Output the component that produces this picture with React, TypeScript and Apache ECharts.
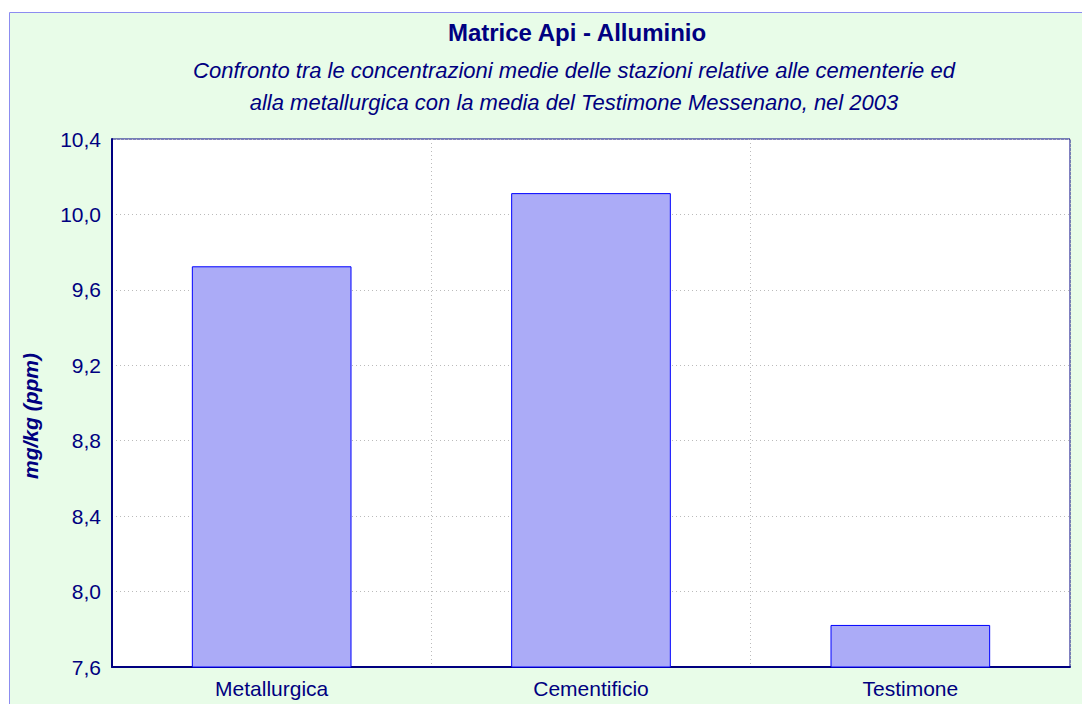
import React, { useEffect, useRef } from "react";
import * as echarts from "echarts";

const categories = ["Metallurgica", "Cementificio", "Testimone"];
const values = [9.725, 10.113, 7.823];
const yTicks = { min: 7.6, max: 10.4, interval: 0.4 };
const yAxisName = "mg/kg (ppm)";

const NAVY = "#000080";
const FONT = "'Liberation Sans', Arial, sans-serif";

export default function App() {
  const ref = useRef<HTMLDivElement>(null);
  useEffect(() => {
    if (!ref.current) return;
    const chart = echarts.init(ref.current, undefined, { renderer: "svg" });
    chart.setOption({
      animation: false,
      backgroundColor: "#ffffff",
      graphic: [
        {
          type: "rect",
          z: -10,
          silent: true,
          shape: { x: 9.5, y: 12.5, width: 1100, height: 720 },
          style: { fill: "#E8FCE8", stroke: "#8C8CF0", lineWidth: 1 },
        },
        {
          type: "text",
          x: 30,
          y: 416,
          rotation: Math.PI / 2,
          style: {
            text: yAxisName,
            fill: NAVY,
            font: "italic bold 21px 'Liberation Sans', Arial, sans-serif",
            align: "center",
            verticalAlign: "middle",
          },
        },
      ],
      title: [
        {
          text: "Matrice Api - Alluminio",
          left: 572,
          top: 15,
          textAlign: "center",
          textStyle: { color: NAVY, fontSize: 24, fontWeight: "bold", fontFamily: FONT },
        },
        {
          text: "Confronto tra le concentrazioni medie delle stazioni relative alle cementerie ed\nalla metallurgica con la media del Testimone Messenano, nel 2003",
          left: 569,
          top: 49,
          textAlign: "center",
          textStyle: {
            color: NAVY,
            fontSize: 22,
            fontStyle: "italic",
            fontWeight: "normal",
            fontFamily: FONT,
            lineHeight: 32,
          },
        },
      ],
      grid: {
        left: 112,
        right: 12,
        top: 139,
        bottom: 37,
        show: true,
        backgroundColor: "#ffffff",
        borderColor: NAVY,
        borderWidth: 1,
      },
      xAxis: {
        type: "category",
        data: categories,
        axisLine: { show: true, lineStyle: { color: NAVY, width: 2 } },
        axisTick: { show: false },
        axisLabel: { color: NAVY, fontSize: 21, fontFamily: FONT, margin: 11 },
        splitLine: { show: true, interval: 0, lineStyle: { color: "#bbbbbb", type: [1, 3], width: 1 } },
      },
      yAxis: {
        type: "value",
        min: yTicks.min,
        max: yTicks.max,
        interval: yTicks.interval,
        axisLine: { show: true, lineStyle: { color: NAVY, width: 2 } },
        axisTick: { show: false },
        axisLabel: {
          color: NAVY,
          fontSize: 21,
          fontFamily: FONT,
          margin: 11,
          formatter: (v: number) => v.toFixed(1).replace(".", ","),
        },
        splitLine: { show: true, lineStyle: { color: "#bbbbbb", type: [1, 3], width: 1 } },
      },
      series: [
        {
          type: "bar",
          data: values,
          barWidth: "50%",
          itemStyle: { color: "#ABABF7", borderColor: "#0000FF", borderWidth: 1 },
        },
      ],
    });
    return () => chart.dispose();
  }, []);
  return (
    <div
      ref={ref}
      style={{ position: "absolute", left: 0, top: 0, width: 1082, height: 704 }}
    />
  );
}
